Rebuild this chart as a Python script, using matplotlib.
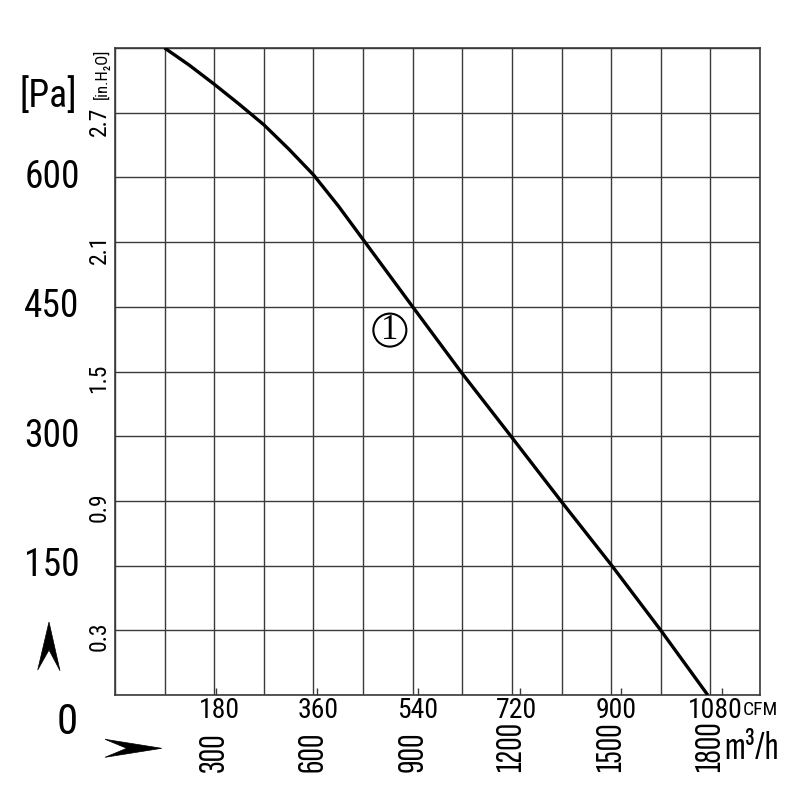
import matplotlib
matplotlib.use('Agg')
import matplotlib.pyplot as plt
from matplotlib.transforms import blended_transform_factory as btf
from matplotlib.patches import Polygon

# ---- data ----
flow_m3h = [150, 225, 300, 375, 450, 525, 600, 675, 750, 825, 900,
            1045, 1197, 1348, 1502, 1650, 1792]
pressure_pa = [750, 730, 708, 685, 661, 633, 603, 567, 528, 489, 450,
               375, 300, 225, 150, 75, 0]
pa_ticks = [150, 300, 450, 600]
inh2o_ticks = [0.3, 0.9, 1.5, 2.1, 2.7]
cfm_ticks = [180, 360, 540, 720, 900, 1080]
m3h_ticks = [300, 600, 900, 1200, 1500, 1800]
curve_label = "1"

PA_PER_INH2O = 249.09
M3H_PER_CFM = 1.699

FONT = ['Roboto Condensed', 'DejaVu Sans']
FONT_X = ['Sofia Sans Extra Condensed', 'Roboto Condensed', 'DejaVu Sans']
W = H = 800

fig = plt.figure(figsize=(8, 8), dpi=100)
fig.patch.set_facecolor('white')
ax = fig.add_axes([115 / W, 105 / H, 645 / W, 647 / H])
ax.set_xlim(0, 1950)
ax.set_ylim(0, 750)

gridc = '#3a3a3a'
ax.set_xticks(range(0, 1951, 150))
ax.set_yticks(range(0, 751, 75))
ax.grid(True, which='major', color=gridc, lw=1.0)
ax.tick_params(which='major', length=0, labelbottom=False, labelleft=False)
ax.set_xticks([c * M3H_PER_CFM for c in cfm_ticks], minor=True)
ax.tick_params(which='minor', axis='x', direction='in', length=5, width=1, color=gridc)
ax.tick_params(which='minor', axis='y', length=0)
for s in ax.spines.values():
    s.set_color(gridc)
    s.set_linewidth(1.2)

ax.plot(flow_m3h, pressure_pa, color='black', lw=2.4, solid_capstyle='butt',
        solid_joinstyle='round', zorder=3)

ax.text(831, 423, curve_label, family='Liberation Serif', fontsize=25, ha='center', va='center',
        bbox=dict(boxstyle='circle,pad=0.0', fc='none', ec='black', lw=1.5), zorder=4)

# Pa labels (left)
tr_y = btf(fig.transFigure, ax.transData)
for v in pa_ticks:
    ax.text(52 / W, v, str(v), transform=tr_y, family=FONT, fontsize=27,
            ha='center', va='center')
fig.text(48 / W, 1 - 96 / H, '[Pa]', family=FONT, fontsize=27, ha='center', va='center')
fig.text(67 / W, 1 - 723 / H, '0', family=FONT, fontsize=31, ha='center', va='center')

# in.H2O labels
for v in inh2o_ticks:
    ax.text(99 / W, v * PA_PER_INH2O - 7, f'{v:.1f}', transform=tr_y, family=FONT,
            fontsize=17, rotation=90, ha='center', va='center')
fig.text(101 / W, 1 - 74 / H, '[in.H₂O]', family=FONT, fontsize=12, rotation=90,
         ha='center', va='center')

# CFM labels
tr_x = btf(ax.transData, fig.transFigure)
for c, m in zip(cfm_ticks, m3h_ticks):
    ax.text(m + 15, 1 - 710 / H, str(c), transform=tr_x, family=FONT, fontsize=20,
            ha='center', va='center')
fig.text(760 / W, 1 - 710 / H, 'CFM', family=FONT, fontsize=14, ha='center', va='center')

# m3/h labels (rotated)
for m in m3h_ticks:
    ax.text(m, 1 - 772 / H, str(m), transform=tr_x, family=FONT_X, fontsize=27,
            rotation=90, ha='center', va='bottom')
fig.text(779 / W, 1 - 767 / H, 'm³/h', family=FONT_X, fontsize=29, ha='right', va='bottom')

# arrowheads
def figpoly(pts):
    return Polygon([(x / W, 1 - y / H) for x, y in pts], closed=True,
                   transform=fig.transFigure, fc='black', ec='black', lw=0.5)

fig.patches.append(figpoly([(49, 622), (37.7, 670), (49, 650), (60, 670.7)]))
fig.patches.append(figpoly([(161.7, 748.3), (105, 739.3), (126.7, 748.3), (105, 757.3)]))

fig.savefig('out.png', dpi=100, facecolor='white')
